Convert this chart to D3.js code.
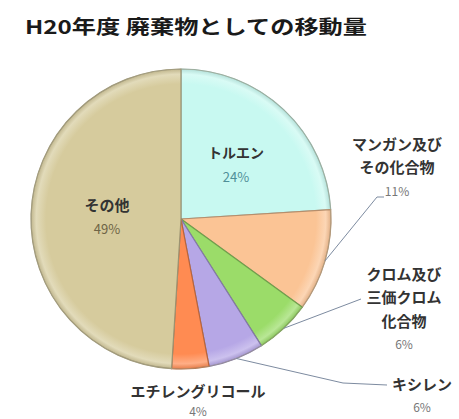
<!DOCTYPE html>
<html>
<head>
<meta charset="utf-8">
<script src="https://cdn.jsdelivr.net/npm/d3@7"></script>
<style>
  html, body { margin: 0; padding: 0; background: #fff; }
  svg { display: block; font-family: "Noto Sans CJK JP", "Noto Sans", sans-serif; }
</style>
</head>
<body>
<svg id="chart" width="459" height="419"></svg>
<script>
// H20年度 廃棄物としての移動量 (share of transfers as waste, %)
const title = "H20年度 廃棄物としての移動量";
const categories = ["トルエン", "マンガン及びその化合物", "クロム及び三価クロム化合物", "キシレン", "エチレングリコール", "その他"];
const labelLines = [["トルエン"], ["マンガン及び", "その化合物"], ["クロム及び", "三価クロム", "化合物"], ["キシレン"], ["エチレングリコール"], ["その他"]];
const values = [24, 11, 6, 6, 4, 49];
const colors = ["#C8F9F1", "#FBC495", "#9BDC69", "#B6A7E6", "#FF8B52", "#D6CB9D"];

const svg = d3.select("#chart");
const cx = 181, cy = 219, R = 150;

// title
svg.append("text")
  .attr("x", 25).attr("y", 34)
  .attr("textLength", 342).attr("lengthAdjust", "spacingAndGlyphs")
  .attr("font-size", 19).attr("font-weight", "bold").attr("fill", "#1a1a1a")
  .text(title);

const data = categories.map((c, i) => ({ name: c, lines: labelLines[i], value: values[i], color: colors[i] }));

const pie = d3.pie().value(d => d.value).sort(null).startAngle(0).endAngle(2 * Math.PI);
const arcs = pie(data);
const arc = d3.arc().innerRadius(0).outerRadius(R);
const edgeArc = d3.arc().innerRadius(R).outerRadius(R);

// soft bevel: flat colour, lighter band near the rim, slightly darker edge
const defs = svg.append("defs");
data.forEach((d, i) => {
  const base = d3.color(d.color);
  const g = defs.append("radialGradient")
    .attr("id", "grad" + i)
    .attr("gradientUnits", "userSpaceOnUse")
    .attr("cx", 0).attr("cy", 0).attr("r", R);
  g.append("stop").attr("offset", 0).attr("stop-color", base.formatHex());
  g.append("stop").attr("offset", 0.9).attr("stop-color", base.formatHex());
  g.append("stop").attr("offset", 0.965).attr("stop-color", d3.interpolateRgb(base, "#ffffff")(0.3));
  g.append("stop").attr("offset", 1).attr("stop-color", base.darker(0.3).formatHex());
});

const pieG = svg.append("g").attr("transform", `translate(${cx},${cy})`);

pieG.selectAll("path.slice")
  .data(arcs)
  .join("path")
  .attr("class", "slice")
  .attr("d", arc)
  .attr("fill", (d, i) => `url(#grad${i})`)
  .attr("stroke", d => d3.color(d.data.color).darker(0.9).formatHex())
  .attr("stroke-width", 1.2)
  .attr("stroke-linejoin", "round");

// thin outer rim
pieG.append("circle").attr("r", R).attr("fill", "none")
  .attr("stroke", "#a9a58c").attr("stroke-width", 1).attr("opacity", 0.5);

// label layout: anchor point for each label block and leader elbows
const layout = [
  { x: 236, y: 152, inside: true, pctColor: "#4f8f98", nameSize: 14, pctSize: 13 },
  { x: 397, y: 143, pctColor: "#777", leader: [[377, 197], [384, 197]] },
  { x: 404, y: 273, pctColor: "#777", leader: [[361, 299]] },
  { x: 422, y: 383, pctColor: "#777", leader: [[343, 383], [387, 385]] },
  { x: 198, y: 390, pctColor: "#777", pctGap: 20 },
  { x: 107, y: 204, inside: true, pctColor: "#6e6446", nameSize: 15, pctSize: 13 }
];
const lineH = 23.5;

const labelG = svg.append("g");

arcs.forEach((a, i) => {
  const L = layout[i];
  const nameSize = L.nameSize || 15;
  const pctSize = L.pctSize || 12;
  const g = labelG.append("g");
  a.data.lines.forEach((ln, k) => {
    g.append("text")
      .attr("x", L.x).attr("y", L.y + k * lineH)
      .attr("text-anchor", "middle").attr("dominant-baseline", "central")
      .attr("font-size", nameSize).attr("font-weight", "bold").attr("fill", "#333")
      .text(ln);
  });
  const nLines = a.data.lines.length;
  const pctY = L.pctGap ? L.y + (nLines - 1) * lineH + L.pctGap : L.y + nLines * lineH + (L.inside ? 1 : 0);
  g.append("text")
    .attr("x", L.x).attr("y", pctY)
    .attr("text-anchor", "middle").attr("dominant-baseline", "central")
    .attr("font-size", pctSize).attr("fill", L.pctColor)
    .text(a.data.value + "%");

  if (L.leader) {
    const [ex, ey] = edgeArc.centroid(a);
    const pts = [[cx + ex, cy + ey], ...L.leader];
    svg.append("path")
      .attr("d", d3.line()(pts))
      .attr("fill", "none").attr("stroke", "#7d8ba0").attr("stroke-width", 1);
  }
});
</script>
</body>
</html>
